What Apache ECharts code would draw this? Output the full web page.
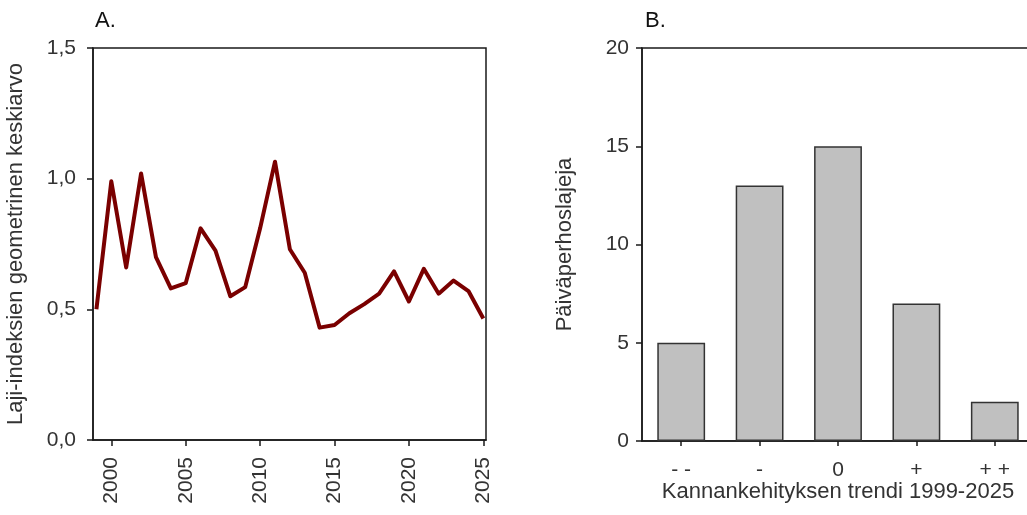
<!DOCTYPE html>
<html><head><meta charset="utf-8">
<script src="https://cdn.jsdelivr.net/npm/echarts@6/dist/echarts.min.js"></script>
<style>html,body{margin:0;padding:0;background:#fff;overflow:hidden}#c{width:1040px;height:515px}</style>
</head><body><div id="c"></div>
<script>
var years = [1999,2000,2001,2002,2003,2004,2005,2006,2007,2008,2009,2010,2011,2012,2013,2014,2015,2016,2017,2018,2019,2020,2021,2022,2023,2024,2025];
var indexValues = [0.50,0.99,0.66,1.02,0.70,0.58,0.60,0.81,0.725,0.55,0.585,0.81,1.065,0.73,0.64,0.43,0.44,0.485,0.52,0.56,0.645,0.53,0.655,0.56,0.61,0.57,0.465];
var yearTicks = [2000,2005,2010,2015,2020,2025];
var indexTicks = [0,0.5,1.0,1.5];
var trendCategories = ['- -','-','0','+','+ +'];
var speciesCounts = [5,13,15,7,2];
var countTicks = [0,5,10,15,20];

var FONT = 'Liberation Sans, Arial, sans-serif';
var TXT = '#333';
var AX = '#1a1a1a';
var chart = echarts.init(document.getElementById('c'));
chart.setOption({
  animation: false,
  textStyle: {fontFamily: FONT},
  title: [
    {text: 'A.', left: 90, top: 5, textStyle: {fontFamily: FONT, fontSize: 22, fontWeight: 'normal', color: '#111'}},
    {text: 'B.', left: 640, top: 5, textStyle: {fontFamily: FONT, fontSize: 22, fontWeight: 'normal', color: '#111'}}
  ],
  grid: [
    {left: 93, width: 393, top: 48, bottom: 75, show: true, borderColor: AX, borderWidth: 1.5, backgroundColor: 'transparent'},
    {left: 642, width: 392, top: 48, bottom: 74, show: true, borderColor: AX, borderWidth: 1.5, backgroundColor: 'transparent'}
  ],
  xAxis: [
    {type: 'value', gridIndex: 0, min: 1998.77, max: 2025.18,
     axisLine: {show: true, lineStyle: {color: AX, width: 1.5}},
     axisTick: {show: true, length: 6, customValues: yearTicks, lineStyle: {color: AX, width: 1.5}},
     axisLabel: {show: true, rotate: 90, margin: 17, customValues: yearTicks, fontSize: 21, color: TXT, fontFamily: FONT,
                 formatter: function(v){return String(v);}},
     splitLine: {show: false}},
    {type: 'category', gridIndex: 1, data: trendCategories, boundaryGap: true,
     axisLine: {show: true, lineStyle: {color: AX, width: 1.5}},
     axisTick: {show: true, alignWithLabel: true, length: 5, lineStyle: {color: AX, width: 1.5}},
     axisLabel: {show: true, margin: 19, fontSize: 21, color: TXT, fontFamily: FONT},
     name: 'Kannankehityksen trendi 1999-2025', nameLocation: 'middle', nameGap: 40, nameMoveOverlap: false,
     nameTextStyle: {fontSize: 22, color: TXT, fontFamily: FONT}}
  ],
  yAxis: [
    {type: 'value', gridIndex: 0, min: 0, max: 1.5, interval: 0.5,
     axisLine: {show: true, lineStyle: {color: AX, width: 1.5}},
     axisTick: {show: true, length: 6, lineStyle: {color: AX, width: 1.5}},
     axisLabel: {show: true, margin: 17, fontSize: 21, color: TXT, fontFamily: FONT,
                 formatter: function(v){return v.toFixed(1).replace('.', ',');}},
     splitLine: {show: false},
     name: 'Laji-indeksien geometrinen keskiarvo', nameLocation: 'middle', nameGap: 66, nameMoveOverlap: false,
     nameTextStyle: {fontSize: 22, color: TXT, fontFamily: FONT}},
    {type: 'value', gridIndex: 1, min: 0, max: 20, interval: 5,
     axisLine: {show: true, lineStyle: {color: AX, width: 1.5}},
     axisTick: {show: true, length: 6, lineStyle: {color: AX, width: 1.5}},
     axisLabel: {show: true, margin: 13, fontSize: 21, color: TXT, fontFamily: FONT},
     splitLine: {show: false},
     name: 'Päiväperhoslajeja', nameLocation: 'middle', nameGap: 66, nameMoveOverlap: false,
     nameTextStyle: {fontSize: 22, color: TXT, fontFamily: FONT}}
  ],
  series: [
    {type: 'line', xAxisIndex: 0, yAxisIndex: 0,
     data: years.map(function(y, i){return [y, indexValues[i]];}),
     showSymbol: false, symbol: 'none', lineStyle: {color: '#7a0000', width: 4, join: 'round'}},
    {type: 'bar', xAxisIndex: 1, yAxisIndex: 1, data: speciesCounts, barCategoryGap: '39%',
     itemStyle: {color: '#c0c0c0', borderColor: '#333', borderWidth: 1.5}}
  ]
});
</script></body></html>
